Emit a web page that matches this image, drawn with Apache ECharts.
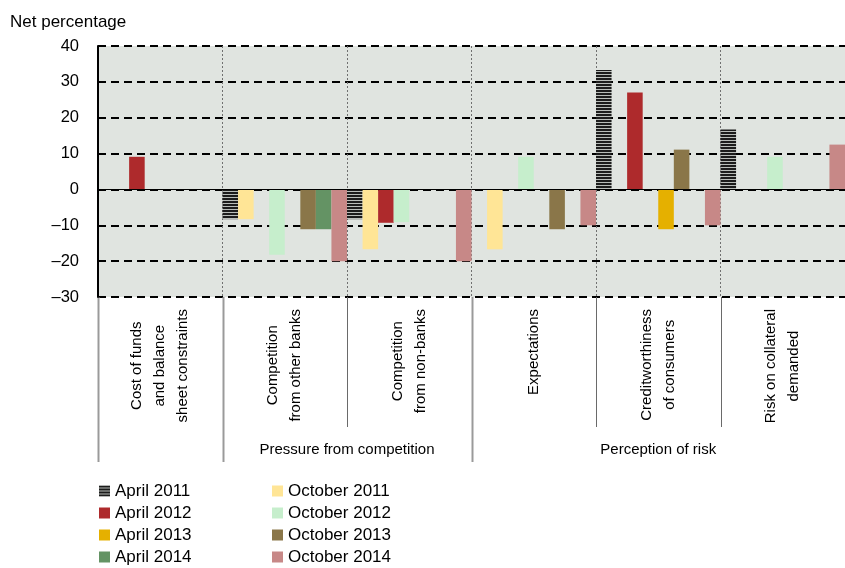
<!DOCTYPE html>
<html><head><meta charset="utf-8">
<script src="https://cdn.jsdelivr.net/npm/echarts@6/dist/echarts.min.js"></script>
<style>html,body{margin:0;padding:0;background:#fff}#chart{width:845px;height:568px}</style>
</head><body><div id="chart"></div>
<script>
// Factors affecting credit standards — net percentage of banks
const categories = [
  ['Cost of funds', 'and balance', 'sheet constraints'],
  ['Competition', 'from other banks'],
  ['Competition', 'from non-banks'],
  ['Expectations'],
  ['Creditworthiness', 'of consumers'],
  ['Risk on collateral', 'demanded']
];
const groupLabels = ['Pressure from competition', 'Perception of risk'];
const groupFirst = [1, 3];
const groupLast = [2, 5];

const seriesNames = ['April 2011', 'October 2011', 'April 2012', 'October 2012',
                     'April 2013', 'October 2013', 'April 2014', 'October 2014'];
const april2011   = [null, -8.3, -8.3, null, 33.3, 16.7];
const october2011 = [null, -8.3, -16.7, -16.7, null, null];
const april2012   = [9.1, null, -9.3, null, 27.0, null];
const october2012 = [null, -18.2, -9.1, 9.1, null, 9.1];
const april2013   = [null, null, null, null, -11.1, null];
const october2013 = [null, -11.1, null, -11.1, 11.1, null];
const april2014   = [null, -11.1, null, null, null, null];
const october2014 = [null, -20, -20, -10, -10, 12.5];
const seriesValues = [april2011, october2011, april2012, october2012,
                      april2013, october2013, april2014, october2014];

const yTicks = [-30, -20, -10, 0, 10, 20, 30, 40];

const FONT = "'Liberation Sans', Arial, sans-serif";

function stripes() {
  const c = document.createElement('canvas');
  c.width = 4; c.height = 3;
  const g = c.getContext('2d');
  g.fillStyle = '#b9bdb9'; g.fillRect(0, 0, 4, 3);
  g.fillStyle = '#1c1c1c'; g.fillRect(0, 0, 4, 2);
  return c;
}

const colors = [
  {image: stripes(), repeat: 'repeat'},
  '#ffe596', '#ae2a2c', '#c6eecc', '#e5b000', '#8a7649', '#649364', '#c78887'
];

const chart = echarts.init(document.getElementById('chart'), null, {renderer: 'canvas'});

const series = seriesNames.map((name, i) => {
  const s = {
    name: name,
    type: 'bar',
    data: seriesValues[i],
    barGap: '0%',
    barCategoryGap: '0%',
    itemStyle: {color: colors[i]},
    emphasis: {disabled: true},
    animation: false
  };
  if (i === 0) {
    s.markLine = {
      silent: true,
      symbol: 'none',
      label: {show: false},
      lineStyle: {color: '#000', width: 1, type: 'solid'},
      data: [{yAxis: 0}],
      animation: false
    };
  }
  return s;
});

const legendText = {fontFamily: FONT, fontSize: 17, color: '#000', lineHeight: 20};
const legendBase = {
  orient: 'vertical', top: 481, padding: 0,
  itemWidth: 11, itemHeight: 11, itemGap: 2,
  icon: 'rect', textStyle: legendText, selectedMode: false
};

chart.setOption({
  animation: false,
  title: {
    text: 'Net percentage',
    left: 10, top: 14, padding: 0,
    textStyle: {fontFamily: FONT, fontSize: 17, fontWeight: 'normal', color: '#000'}
  },
  legend: [
    Object.assign({data: seriesNames.filter((n, i) => i % 2 === 0), left: 99}, legendBase),
    Object.assign({data: seriesNames.filter((n, i) => i % 2 === 1), left: 272}, legendBase)
  ],
  grid: {
    left: 98, top: 46, width: 756, height: 251,
    show: true, backgroundColor: '#e0e4e0', borderWidth: 0,
    containLabel: false
  },
  xAxis: {
    type: 'category',
    data: categories.map(c => c.join('\n')),
    axisLine: {show: false, onZero: false},
    axisTick: {show: false},
    splitLine: {show: true, interval: 0, lineStyle: {color: '#707070', type: [2, 2], width: 1}},
    axisLabel: {
      interval: 0,
      rotate: 90,
      margin: 12,
      formatter: (v) => v.split('\n').map(t => '{c|' + t + '}').join('\n'),
      rich: {c: {align: 'center', fontFamily: FONT, fontSize: 15, lineHeight: 23, color: '#000'}}
    }
  },
  yAxis: {
    type: 'value',
    min: yTicks[0], max: yTicks[yTicks.length - 1], interval: 10,
    axisLine: {show: true, lineStyle: {color: '#000', width: 2}},
    axisTick: {show: false},
    splitLine: {show: true, lineStyle: {color: '#000', width: 2, type: [8, 5]}},
    axisLabel: {
      margin: 19,
      fontFamily: FONT, fontSize: 16.5, color: '#000',
      formatter: (v) => yTicks.includes(v) ? String(v).replace('-', '\u2013') : ''
    }
  },
  series: series
});

// Separators and group titles under the category axis
function drawGroups() {
  const c0 = chart.convertToPixel({xAxisIndex: 0}, 0);
  const c1 = chart.convertToPixel({xAxisIndex: 0}, 1);
  const band = c1 - c0;
  const edge = (i) => chart.convertToPixel({xAxisIndex: 0}, i) - band / 2;
  const axisY = chart.convertToPixel({yAxisIndex: 0}, yTicks[0]);
  const longEdges = [0].concat(groupFirst);
  const graphics = [];
  for (let i = 0; i < categories.length; i++) {
    const isLong = longEdges.includes(i);
    const x = Math.round(edge(i)) + 0.5;
    graphics.push({
      type: 'line', silent: true,
      shape: {x1: x, y1: axisY, x2: x, y2: axisY + (isLong ? 165 : 130)},
      style: {stroke: isLong ? '#9a9a9a' : '#6a6a6a', lineWidth: isLong ? 2 : 1}
    });
  }
  groupLabels.forEach((label, g) => {
    const xa = edge(groupFirst[g]);
    const xb = edge(groupLast[g]) + band;
    graphics.push({
      type: 'text', silent: true,
      x: (xa + xb) / 2, y: axisY + 153,
      style: {text: label, fontFamily: FONT, fontSize: 15, fill: '#000',
              align: 'center', verticalAlign: 'middle'}
    });
  });
  chart.setOption({graphic: graphics});
}
drawGroups();
</script>
</body></html>
